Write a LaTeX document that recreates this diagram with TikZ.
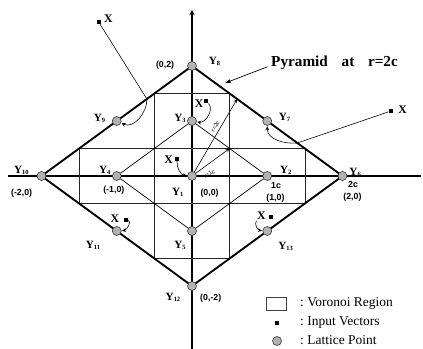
\documentclass[tikz,border=0pt]{standalone}
\usepackage{fontspec}
\setmainfont{Liberation Serif}
\newfontfamily\coordfont{Liberation Sans}
\usepackage{tikz}
\usetikzlibrary{calc}
\usepackage{tkz-euclide}

\tikzset{
  lattice/.style={circle, draw=black!80, line width=0.5pt, fill=gray!60,
    minimum size=0.27cm, inner sep=0pt},
  inp/.style={rectangle, fill=black, minimum size=0.12cm, inner sep=0pt},
  cell/.style={black!85, line width=0.6pt},
  hook/.style={-stealth, line width=0.5pt, shorten >=0.5pt},
  xlab/.style={font=\fontsize{10}{10}\selectfont\bfseries, inner sep=0.5pt},
  ylab/.style={font=\fontsize{9.5}{10}\selectfont\bfseries, inner sep=0pt},
  clab/.style={font=\coordfont\fontsize{7.5}{8}\selectfont\bfseries, inner sep=0pt},
}
\newcommand{\yname}[1]{Y\textsubscript{\fontsize{5.5}{6}\selectfont#1}}

\begin{document}
\begin{tikzpicture}[x=2.2575cm, y=1.65cm]
                \useasboundingbox (-2.5515,-3.1455) rectangle (3.0698,3.2);
                % lattice points
                \tkzDefPoints{0/0/Y1, 1/0/Y2, 0/1/Y3, -1/0/Y4, 0/-1/Y5,
                  2/0/Y6, 1/1/Y7, 0/2/Y8, -1/1/Y9, -2/0/Y10,
                  -1/-1/Y11, 0/-2/Y12, 1/-1/Y13}
                % axes
                \tkzDefPoints{0/3.02/T, 0/-3.15/B, -2.45/0/L, 3.04/0/R}
                \draw[line width=1pt] (L) -- (R);
                \draw[line width=1pt, -stealth] (B) -- (T);
                % voronoi cells
                \begin{scope}
                  \clip (Y6) -- (Y8) -- (Y10) -- (Y12) -- cycle;
                  \foreach \v in {-1.5,-0.5,0.5,1.5} {
                    \draw[cell] (\v,-2) -- (\v,2);
                    \draw[cell] (-2,\v) -- (2,\v);
                  }
                \end{scope}
                \tkzDrawPolygon[black, line width=0.6pt](Y2,Y3,Y4,Y5)
                \tkzDrawPolygon[black, line width=1.6pt](Y6,Y8,Y10,Y12)
                % radii
                \tkzDefPoints{0.5/0.5/R1, 0.6/1.4/R2}
                \draw[-stealth, line width=0.5pt] (Y1) -- (R1);
                \draw[-stealth, line width=0.5pt] (Y1) -- (R2);
                \node[font=\coordfont\fontsize{5}{5}\selectfont, rotate=30] at (0.23,0.04) {r=1c};
                \node[font=\coordfont\fontsize{5}{5}\selectfont, rotate=60] at (0.31,0.9) {r=2c};
                \foreach \i in {1,...,13}
                  \node[lattice] (L\i) at (Y\i) {};
                % input vectors
                \tkzDefPoints{0.19/1.36/Xa, -0.2/0.31/Xb, -1.24/2.8/Xc, 2.64/1.18/Xd,
                  -0.88/-0.8/Xe, 1.05/-0.75/Xf, -0.6/1.4/E1, 1.4/0.6/E2}
                \foreach \p in {a,...,f}
                  \node[inp] (x\p) at (X\p) {};
                \node[xlab, anchor=east] (xla) at ($(xa.west)+(0,-2pt)$) {X};
                \node[xlab, anchor=east] (xlb) at ($(xb.west)+(-1pt,-1pt)$) {X};
                \node[xlab, anchor=west] (xlc) at ($(xc.east)+(2pt,3pt)$) {X};
                \node[xlab, anchor=west] (xld) at ($(xd.east)+(4pt,1pt)$) {X};
                \node[xlab, anchor=east] (xle) at ($(xe.west)+(-3pt,1pt)$) {X};
                \node[xlab, anchor=east] (xlf) at ($(xf.west)+(-2pt,1pt)$) {X};
                \draw[hook] (xa) to[out=-45, in=-10] (L3);
                \draw[hook] (xb) to[out=-90, in=175] (L1);
                \draw[line width=0.5pt] (xc) -- (E1);
                \draw[hook] (E1) to[out=-88, in=-25] (L9);
                \draw[line width=0.5pt] (xd) -- (E2);
                \draw[hook] (E2) to[out=185, in=-90] (L7);
                \draw[hook] (xe) to[out=-10, in=5] (L11);
                \draw[hook] (xlf.south west) to[out=-120, in=175] (L13);
                % pyramid
                \tkzDefPoints{0.44/1.69/P}
                \node[anchor=west, inner sep=0pt, font=\fontsize{13}{14}\selectfont\bfseries]
                  (pyr) at (1.05,2.05) {Pyramid\hspace{0.9em}at\hspace{0.9em}r=2c};
                \draw[-latex, line width=0.6pt] ($(pyr.west)+(-3pt,-3pt)$) -- (P);
                % labels
                \tkzLabelPoint[ylab, xshift=19.5pt, yshift=7.7pt](Y8){\yname{8}}
                \tkzLabelPoint[clab, xshift=-23pt, yshift=4pt](Y8){(0,2)}
                \tkzLabelPoint[ylab, xshift=-14.5pt, yshift=6pt](Y9){\yname{9}}
                \tkzLabelPoint[ylab, xshift=-10pt, yshift=6pt](Y3){\yname{3}}
                \tkzLabelPoint[ylab, xshift=15pt, yshift=7pt](Y7){\yname{7}}
                \tkzLabelPoint[ylab, xshift=-17pt, yshift=8.5pt](Y10){\yname{10}}
                \tkzLabelPoint[ylab, xshift=-10pt, yshift=8.5pt](Y4){\yname{4}}
                \tkzLabelPoint[ylab, xshift=16pt, yshift=8.5pt](Y2){\yname{2}}
                \tkzLabelPoint[ylab, xshift=11pt, yshift=7pt](Y6){\yname{6}}
                \tkzLabelPoint[clab, xshift=-17pt, yshift=-11pt](Y10){(-2,0)}
                \tkzLabelPoint[clab, xshift=-2.5pt, yshift=-8.5pt](Y4){(-1,0)}
                \tkzLabelPoint[ylab, xshift=-12pt, yshift=-10pt](Y1){\yname{1}}
                \tkzLabelPoint[clab, xshift=15pt, yshift=-11pt](Y1){(0,0)}
                \tkzLabelPoint[clab, xshift=7.5pt, yshift=-5pt](Y2){1c}
                \tkzLabelPoint[clab, xshift=7pt, yshift=-15pt](Y2){(1,0)}
                \tkzLabelPoint[clab, xshift=9pt, yshift=-4pt](Y6){2c}
                \tkzLabelPoint[clab, xshift=8.5pt, yshift=-14.5pt](Y6){(2,0)}
                \tkzLabelPoint[ylab, xshift=-20pt, yshift=-8.5pt](Y11){\yname{11}}
                \tkzLabelPoint[ylab, xshift=-10pt, yshift=-8.5pt](Y5){\yname{5}}
                \tkzLabelPoint[ylab, xshift=16pt, yshift=-9pt](Y13){\yname{13}}
                \tkzLabelPoint[ylab, xshift=-16pt, yshift=-6pt](Y12){\yname{12}}
                \tkzLabelPoint[clab, xshift=16pt, yshift=-7pt](Y12){(0,-2)}
                % legend
                \draw[line width=0.8pt, black!75] (0.983,-2.2) rectangle (1.262,-2.436);
                \node[inp] (kx) at (1.13,-2.673) {};
                \node[lattice] (kl) at (1.13,-3.0) {};
                \node[anchor=west, inner sep=0pt, font=\fontsize{11.5}{12}\selectfont] at (1.435,-2.327) {:~Voronoi Region};
                \node[anchor=west, inner sep=0pt, font=\fontsize{11.5}{12}\selectfont] at (1.435,-2.673) {:~Input Vectors};
                \node[anchor=west, inner sep=0pt, font=\fontsize{11.5}{12}\selectfont] at (1.435,-2.98) {:~Lattice Point};
            \end{tikzpicture}
\end{document}
